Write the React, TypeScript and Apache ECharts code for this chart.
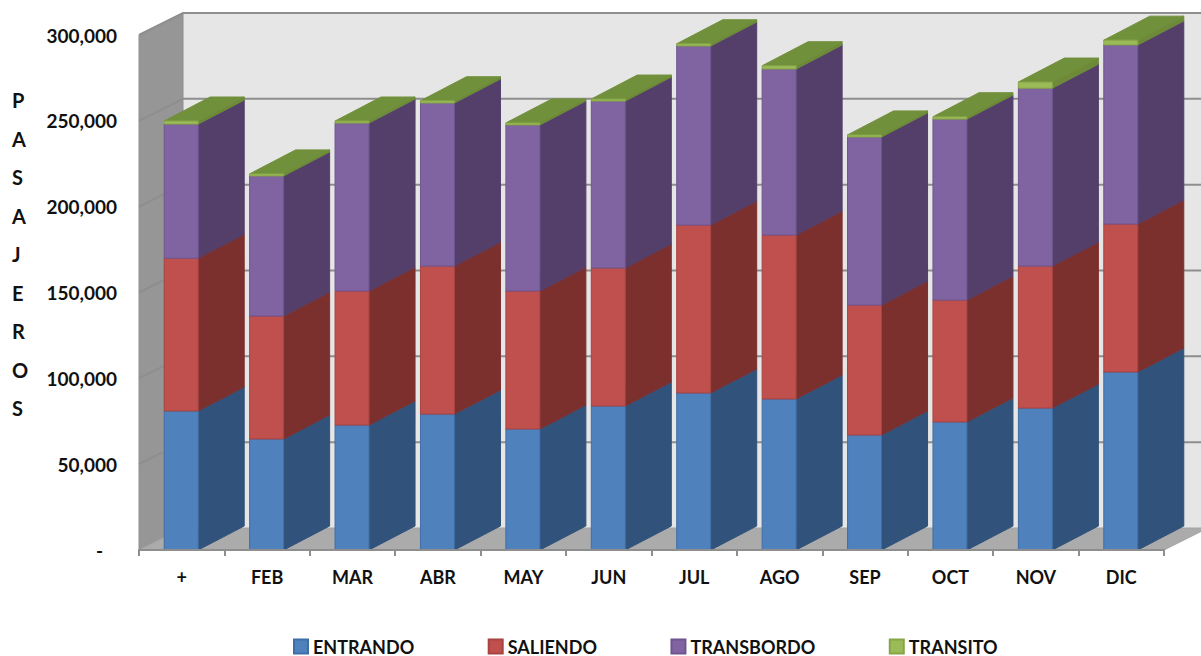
import React, { useEffect, useRef } from "react";
import * as echarts from "echarts";

const MONTHS = ["+", "FEB", "MAR", "ABR", "MAY", "JUN", "JUL", "AGO", "SEP", "OCT", "NOV", "DIC"];
const ENTRANDO = [81000, 64700, 72800, 79200, 70500, 83900, 91500, 88000, 67000, 74600, 82700, 103700];
const SALIENDO = [89000, 71600, 78100, 86200, 80400, 80400, 97800, 95500, 75700, 71000, 82700, 86200];
const TRANSBORDO = [78100, 81600, 97800, 95000, 96700, 97200, 104300, 96700, 97900, 105400, 103600, 104300];
const TRANSITO = [1800, 1200, 1200, 1300, 1200, 1200, 1300, 1900, 1200, 1400, 3600, 2800];
const Y_TICKS = [0, 50000, 100000, 150000, 200000, 250000, 300000];

const SERIES = [
  { name: "ENTRANDO", values: ENTRANDO, front: "#4f81bd", edge: "#3f6ea6", side: "#30527b", top: "#3a6496" },
  { name: "SALIENDO", values: SALIENDO, front: "#c0504d", edge: "#a84341", side: "#7c302e", top: "#8f3b39" },
  { name: "TRANSBORDO", values: TRANSBORDO, front: "#8064a2", edge: "#6f558f", side: "#533f6a", top: "#5f4a7a" },
  { name: "TRANSITO", values: TRANSITO, front: "#9bbb59", edge: "#86a548", side: "#6d8a38", top: "#71903c" },
];

const DEPTH_X = 44;
const DEPTH_Y = 22;
const BAR_DX = 46;
const BAR_DY = 24;
const BAR_W = 34;

function poly(points: number[][], fill: string, stroke: string, lineWidth = 1) {
  return { type: "polygon", shape: { points }, style: { fill, stroke, lineWidth } };
}

export default function App() {
  const ref = useRef<HTMLDivElement>(null);
  useEffect(() => {
    document.body.style.margin = "0";
    const chart = echarts.init(ref.current!, undefined, { renderer: "svg" });
    const bases = MONTHS.map(() => 0);
    const barSeries = SERIES.map((s) => {
      const data = s.values.map((v, i) => {
        const row = [i, bases[i], bases[i] + v];
        bases[i] += v;
        return row;
      });
      return {
        type: "custom",
        name: s.name,
        z: 2,
        itemStyle: { color: s.front, borderColor: s.edge, borderWidth: 2 },
        encode: { x: 0, y: [1, 2] },
        data,
        renderItem: (_: any, api: any) => {
          const [cx, y0] = api.coord([api.value(0), api.value(1)]);
          const [, y1] = api.coord([api.value(0), api.value(2)]);
          const l = cx - BAR_W / 2 - 0.5;
          const r = l + BAR_W;
          return {
            type: "group",
            children: [
              poly([[r, y0], [r + BAR_DX, y0 - BAR_DY], [r + BAR_DX, y1 - BAR_DY], [r, y1]], s.side, s.side),
              poly([[l, y1], [r, y1], [r + BAR_DX, y1 - BAR_DY], [l + BAR_DX, y1 - BAR_DY]], s.top, s.top),
              poly([[l, y0], [r, y0], [r, y1], [l, y1]], s.front, s.edge),
            ],
          };
        },
      };
    });
    const wallSeries = {
      type: "custom",
      z: 1,
      silent: true,
      data: [[0]],
      encode: { x: 0 },
      renderItem: (_: any, api: any) => {
        const band = api.size([1, 0])[0];
        const left = api.coord([0, 0])[0] - band / 2;
        const right = api.coord([MONTHS.length - 1, 0])[0] + band / 2;
        const bottom = api.coord([0, 0])[1];
        const top = api.coord([0, 300000])[1];
        const bl = left + DEPTH_X;
        const br = right + DEPTH_X;
        const lineStyle = { stroke: "#8e8e8e", lineWidth: 2, fill: "none" };
        const children: any[] = [
          poly([[bl, top - DEPTH_Y], [br, top - DEPTH_Y], [br, bottom - DEPTH_Y], [bl, bottom - DEPTH_Y]], "#e6e6e6", "#e6e6e6"),
          poly([[left, top], [bl, top - DEPTH_Y], [bl, bottom - DEPTH_Y], [left, bottom]], "#969696", "#8e8e8e"),
          poly([[left, bottom], [right, bottom], [br, bottom - DEPTH_Y], [bl, bottom - DEPTH_Y]], "#ababab", "#a4a4a4"),
        ];
        Y_TICKS.filter((t) => t > 0).forEach((t) => {
          const y = api.coord([0, t])[1];
          children.push({ type: "polyline", shape: { points: [[left, y], [bl, y - DEPTH_Y], [br, y - DEPTH_Y]] }, style: lineStyle });
        });
        return { type: "group", children };
      },
    };
    chart.setOption({
      animation: false,
      backgroundColor: "#ffffff",
      textStyle: { fontFamily: "Lato" },
      grid: { left: 139, top: 35, width: 1025, height: 515, containLabel: false },
      xAxis: {
        type: "category",
        data: MONTHS,
        z: 3,
        axisLine: { lineStyle: { color: "#8e8e8e", width: 2 } },
        axisTick: { show: true, alignWithLabel: false, length: 6, lineStyle: { color: "#8e8e8e", width: 2 } },
        axisLabel: { color: "#111111", fontSize: 18, fontWeight: "bold", fontFamily: "Lato", margin: 18 },
        splitLine: { show: false },
      },
      yAxis: {
        type: "value",
        min: 0,
        max: 300000,
        interval: 50000,
        z: 3,
        axisLine: { show: false },
        axisTick: { show: false },
        splitLine: { show: false },
        axisLabel: {
          color: "#111111",
          fontSize: 19,
          fontWeight: "bold",
          fontFamily: "Lato",
          margin: 22,
          formatter: (v: number) => (v === 0 ? "-\u00a0\u00a0\u00a0" : v.toLocaleString("en-US")),
        },
      },
      legend: {
        data: SERIES.map((s) => s.name),
        left: 293,
        top: 637,
        itemWidth: 14,
        itemHeight: 14,
        itemGap: 73.5,
        icon: "rect",
        selectedMode: false,
        padding: 0,
        textStyle: { color: "#111111", fontSize: 18, fontWeight: "bold", fontFamily: "Lato", lineHeight: 19 },
      },
      graphic: [
        {
          type: "text",
          left: 12,
          top: 81,
          style: {
            text: "PASAJEROS".split("").join("\n"),
            fill: "#111111",
            font: "bold 20px Lato",
            lineHeight: 38.5,
            align: "center",
          },
        },
      ],
      series: [wallSeries, ...barSeries],
    });
    return () => chart.dispose();
  }, []);
  return <div ref={ref} style={{ width: 1201, height: 656, overflow: "hidden" }} />;
}
